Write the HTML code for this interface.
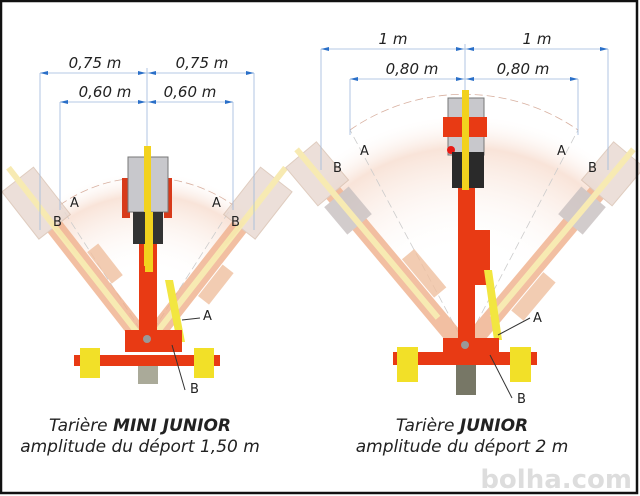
<!DOCTYPE html>
<html><head><meta charset="utf-8"><style>
html,body{margin:0;padding:0;background:#fff}
svg{display:block}
text{font-family:"DejaVu Sans","Liberation Sans",sans-serif}
</style></head><body>
<svg width="640" height="496" viewBox="0 0 640 496" xmlns="http://www.w3.org/2000/svg">
<defs>
<radialGradient id="fan1" cx="147" cy="340" r="170" gradientUnits="userSpaceOnUse">
<stop offset="0.4" stop-color="#fff" stop-opacity="0"/><stop offset="0.85" stop-color="#f6d8c8" stop-opacity="0.7"/><stop offset="1" stop-color="#fff" stop-opacity="0"/>
</radialGradient>
<radialGradient id="fan2" cx="465" cy="345" r="232" gradientUnits="userSpaceOnUse">
<stop offset="0.4" stop-color="#fff" stop-opacity="0"/><stop offset="0.85" stop-color="#f6d8c8" stop-opacity="0.7"/><stop offset="1" stop-color="#fff" stop-opacity="0"/>
</radialGradient>
<g id="ghost">
<rect x="-9" y="-190" width="18" height="190" fill="#f0b08c"/>
<rect x="-20" y="-210" width="40" height="60" fill="#e8d8d0" stroke="#d8c0b0"/>
<rect x="-3" y="-225" width="6" height="215" fill="#f6e6a0"/>
<rect x="10" y="-110" width="14" height="40" fill="#f0c0a0"/>
</g>
<g id="ghost2">
<rect x="-9" y="-230" width="18" height="230" fill="#f0b08c"/>
<rect x="-20" y="-255" width="40" height="50" fill="#e8d8d0" stroke="#d8c0b0"/>
<rect x="-16" y="-200" width="32" height="36" fill="#c8c0c0"/>
<rect x="-3" y="-262" width="6" height="220" fill="#f6e6a0"/>
<rect x="10" y="-110" width="16" height="50" fill="#f0c0a0"/>
</g>
</defs>
<rect width="640" height="496" fill="#fff"/>
<!-- fans -->
<path d="M147 340 L40 212 A167 167 0 0 1 254 212 Z" fill="url(#fan1)"/>
<path d="M465 345 L318 170 A230 230 0 0 1 612 170 Z" fill="url(#fan2)"/>
<path d="M60 205 A150 150 0 0 1 233 205" fill="none" stroke="#d8b0a0" stroke-dasharray="8 4" stroke-width="0.8"/>
<path d="M350 130 A200 200 0 0 1 578 130" fill="none" stroke="#d8b0a0" stroke-dasharray="8 4" stroke-width="0.8"/>
<line x1="147" y1="340" x2="60" y2="205" stroke="#ccc" stroke-dasharray="8 4" stroke-width="0.8"/>
<line x1="147" y1="340" x2="233" y2="205" stroke="#ccc" stroke-dasharray="8 4" stroke-width="0.8"/>
<line x1="465" y1="345" x2="350" y2="130" stroke="#ccc" stroke-dasharray="8 4" stroke-width="0.8"/>
<line x1="465" y1="345" x2="578" y2="130" stroke="#ccc" stroke-dasharray="8 4" stroke-width="0.8"/>
<!-- ghosts -->
<g opacity="0.8">
<use href="#ghost" transform="translate(147 345) rotate(-38)"/>
<use href="#ghost" transform="translate(147 345) rotate(38)"/>
<use href="#ghost2" transform="translate(465 350) rotate(-40)"/>
<use href="#ghost2" transform="translate(465 350) rotate(40)"/>
</g>
<!-- dimension lines -->
<g stroke="#9db8dc" stroke-width="0.8" fill="none">
<line x1="40" y1="73" x2="40" y2="230"/><line x1="254" y1="73" x2="254" y2="230"/>
<line x1="60" y1="102" x2="60" y2="210"/><line x1="233" y1="102" x2="233" y2="210"/>
<line x1="147" y1="68" x2="147" y2="160"/>
<line x1="40" y1="73" x2="254" y2="73"/><line x1="60" y1="102" x2="233" y2="102"/>
<line x1="321" y1="49" x2="321" y2="170"/><line x1="608" y1="49" x2="608" y2="170"/>
<line x1="350" y1="79" x2="350" y2="135"/><line x1="578" y1="79" x2="578" y2="135"/>
<line x1="465" y1="44" x2="465" y2="95"/>
<line x1="321" y1="49" x2="608" y2="49"/><line x1="350" y1="79" x2="578" y2="79"/>
</g>
<g fill="#2a6fc8">
<path d="M40 73l8-2v4z"/><path d="M146 73l-8-2v4z"/><path d="M148 73l8-2v4z"/><path d="M254 73l-8-2v4z"/>
<path d="M60 102l8-2v4z"/><path d="M146 102l-8-2v4z"/><path d="M148 102l8-2v4z"/><path d="M233 102l-8-2v4z"/>
<path d="M321 49l8-2v4z"/><path d="M464 49l-8-2v4z"/><path d="M466 49l8-2v4z"/><path d="M608 49l-8-2v4z"/>
<path d="M350 79l8-2v4z"/><path d="M464 79l-8-2v4z"/><path d="M466 79l8-2v4z"/><path d="M578 79l-8-2v4z"/>
</g>
<g font-style="italic" font-size="15" fill="#222" text-anchor="middle">
<text x="95" y="68">0,75 m</text><text x="202" y="68">0,75 m</text>
<text x="105" y="97">0,60 m</text><text x="190" y="97">0,60 m</text>
<text x="393" y="44">1 m</text><text x="537" y="44">1 m</text>
<text x="412" y="74">0,80 m</text><text x="523" y="74">0,80 m</text>
</g>
<g font-size="13" fill="#222">
<text x="70" y="207">A</text><text x="53" y="226">B</text>
<text x="212" y="207">A</text><text x="231" y="226">B</text>
<text x="360" y="155">A</text><text x="333" y="172">B</text>
<text x="557" y="155">A</text><text x="588" y="172">B</text>
<text x="203" y="320">A</text><text x="190" y="393">B</text>
<text x="533" y="322">A</text><text x="517" y="403">B</text>
</g>
<!-- left machine -->
<rect x="122" y="178" width="8" height="40" fill="#d83a1a"/><rect x="164" y="178" width="8" height="40" fill="#d83a1a"/>
<rect x="139" y="200" width="18" height="150" fill="#e83a14"/>
<rect x="128" y="157" width="40" height="55" fill="#c8c8cc" stroke="#777"/>
<rect x="144" y="146" width="7" height="120" fill="#f2d21e"/>
<rect x="133" y="212" width="30" height="32" fill="#333"/>
<rect x="145" y="212" width="8" height="60" fill="#f2d21e"/>
<path d="M165 280 l8 0 l12 62 l-8 0z" fill="#f2e640"/>
<rect x="125" y="330" width="57" height="22" fill="#e83a14"/>
<rect x="74" y="355" width="146" height="11" fill="#e83a14"/>
<rect x="80" y="348" width="20" height="30" fill="#f2e028"/><rect x="194" y="348" width="20" height="30" fill="#f2e028"/>
<circle cx="147" cy="339" r="4" fill="#999"/>
<rect x="138" y="366" width="20" height="18" fill="#aa9"/>
<line x1="182" y1="320" x2="200" y2="318" stroke="#333"/><line x1="172" y1="345" x2="185" y2="390" stroke="#333"/>
<!-- right machine -->
<rect x="458" y="150" width="17" height="200" fill="#e83a14"/>
<rect x="475" y="230" width="15" height="55" fill="#e83a14"/>
<rect x="448" y="98" width="36" height="57" fill="#c8c8cc" stroke="#777"/>
<rect x="443" y="117" width="44" height="20" fill="#e83a14"/>
<circle cx="451" cy="150" r="4" fill="#e81a14"/>
<rect x="452" y="152" width="32" height="36" fill="#2a2a2a"/>
<rect x="462" y="90" width="7" height="100" fill="#f2d21e"/>
<path d="M484 270 l8 0 l10 70 l-8 0z" fill="#f2e640"/>
<rect x="443" y="338" width="56" height="25" fill="#e83a14"/>
<rect x="393" y="352" width="144" height="13" fill="#e83a14"/>
<rect x="397" y="347" width="21" height="35" fill="#f2e028"/><rect x="510" y="347" width="21" height="35" fill="#f2e028"/>
<circle cx="465" cy="345" r="4" fill="#999"/>
<rect x="456" y="365" width="20" height="30" fill="#776"/>
<line x1="498" y1="335" x2="530" y2="318" stroke="#333"/><line x1="490" y1="355" x2="512" y2="398" stroke="#333"/>
<!-- captions -->
<g font-style="italic" fill="#222" font-size="17" text-anchor="middle">
<text x="140" y="431">Tarière <tspan font-weight="bold">MINI JUNIOR</tspan></text>
<text x="140" y="452">amplitude du déport 1,50 m</text>
<text x="462" y="431">Tarière <tspan font-weight="bold">JUNIOR</tspan></text>
<text x="462" y="452">amplitude du déport 2 m</text>
</g>
<text x="632" y="488" text-anchor="end" font-size="26" font-weight="bold" fill="#ddd">bolha.com</text>
<rect x="1" y="1" width="636" height="492" fill="none" stroke="#111" stroke-width="2.5"/>
</svg>
</body></html>
